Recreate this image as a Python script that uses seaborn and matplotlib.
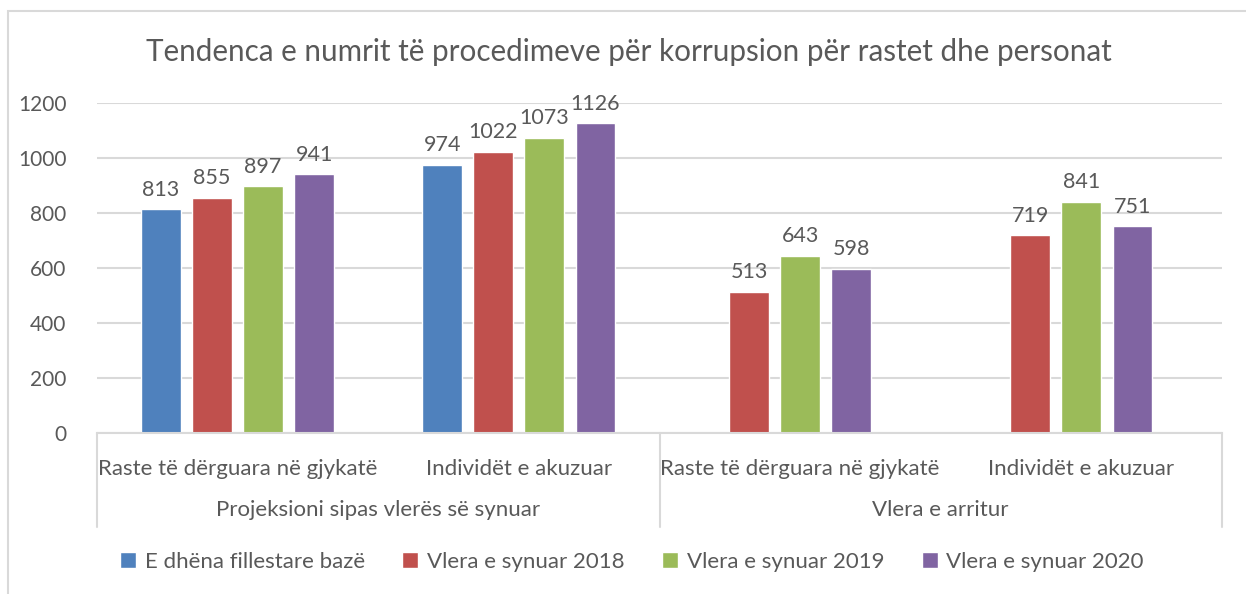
import matplotlib
matplotlib.use('Agg')
import matplotlib.pyplot as plt
from matplotlib.patches import Rectangle, Patch
import seaborn as sns
import pandas as pd
import numpy as np

# te dhenat
nenkategorite = ['Raste të dërguara në gjykatë', 'Individët e akuzuar',
                 'Raste të dërguara në gjykatë', 'Individët e akuzuar']
grupet = ['Projeksioni sipas vlerës së synuar', 'Vlera e arritur']
seriat = ['E dhëna fillestare bazë', 'Vlera e synuar 2018',
          'Vlera e synuar 2019', 'Vlera e synuar 2020']
baza = [813, 974, None, None]
synuar_2018 = [855, 1022, 513, 719]
synuar_2019 = [897, 1073, 643, 841]
synuar_2020 = [941, 1126, 598, 751]
ngjyrat = ['#4F81BD', '#C0504D', '#9BBB59', '#8064A2']

teksti = '#595959'
sns.set_style('white')
plt.rcParams['font.family'] = ['Lato', 'DejaVu Sans']

# shtyllat e pranishme ne cdo kategori vendosen ne qender
hap = 0.1815
rreshta = []
vlerat = [baza, synuar_2018, synuar_2019, synuar_2020]
for i in range(len(nenkategorite)):
    prezent = [(s, v[i]) for s, v in zip(seriat, vlerat) if v[i] is not None]
    n = len(prezent)
    for k, (s, v) in enumerate(prezent):
        rreshta.append({'pos': i + (k - (n - 1) / 2) * hap, 'vlera': v, 'seria': s})
df = pd.DataFrame(rreshta)

fig = plt.figure(figsize=(12.46, 5.94), dpi=100)
ax = fig.add_axes([97 / 1246, 1 - 433 / 594, (1222 - 97) / 1246, 330 / 594])

sns.barplot(data=df, x='pos', y='vlera', hue='seria', hue_order=seriat,
            palette=ngjyrat, native_scale=True, dodge=False, width=0.78,
            errorbar=None, saturation=1, legend=False, ax=ax)

for c in ax.containers:
    ax.bar_label(c, fmt='%d', padding=7, fontsize=15.5, color=teksti)

ax.set_xlim(-0.5, 3.5)
ax.set_ylim(0, 1200)
ax.set_yticks(range(0, 1201, 200))
ax.yaxis.grid(True, color='#D9D9D9', linewidth=1.5)
ax.set_axisbelow(True)
for s in ['top', 'right', 'left']:
    ax.spines[s].set_visible(False)
ax.spines['bottom'].set_color('#D9D9D9')
ax.spines['bottom'].set_linewidth(1.5)
ax.tick_params(axis='y', length=0, labelsize=15, labelcolor=teksti, pad=22)
ax.set_xticks(range(len(nenkategorite)))
ax.set_xticklabels(nenkategorite)
ax.tick_params(axis='x', length=0, labelsize=16, labelcolor=teksti, pad=19)
ax.set_xlabel('')
ax.set_ylabel('')

# boshti me dy nivele
for xg in [0, 0.5, 1]:
    ax.plot([xg, xg], [0, -94 / 330], transform=ax.transAxes, color='#D9D9D9',
            linewidth=1.5, clip_on=False)
for j, g in enumerate(grupet):
    ax.text(0.25 + 0.5 * j, -77 / 330, g, transform=ax.transAxes, ha='center',
            va='center', fontsize=16, color=teksti)

fig.text(629 / 1246, 1 - 52 / 594, 'Tendenca e numrit të procedimeve për korrupsion për rastet dhe personat',
         ha='center', va='center', fontsize=21.3, color=teksti)

doreza = [Patch(facecolor=c, label=s) for c, s in zip(ngjyrat, seriat)]
fig.legend(handles=doreza, loc='center', bbox_to_anchor=(632 / 1246, 1 - 562 / 594),
           ncol=4, frameon=False, fontsize=16, labelcolor=teksti,
           handlelength=0.7, handleheight=0.7, handletextpad=0.4, columnspacing=1.7)

fig.add_artist(Rectangle((8 / 1246, -0.1), 1.2, 1.1 - 11 / 594, transform=fig.transFigure,
                         fill=False, edgecolor='#D9D9D9', linewidth=1.5))

fig.savefig('out.png', dpi=100)
